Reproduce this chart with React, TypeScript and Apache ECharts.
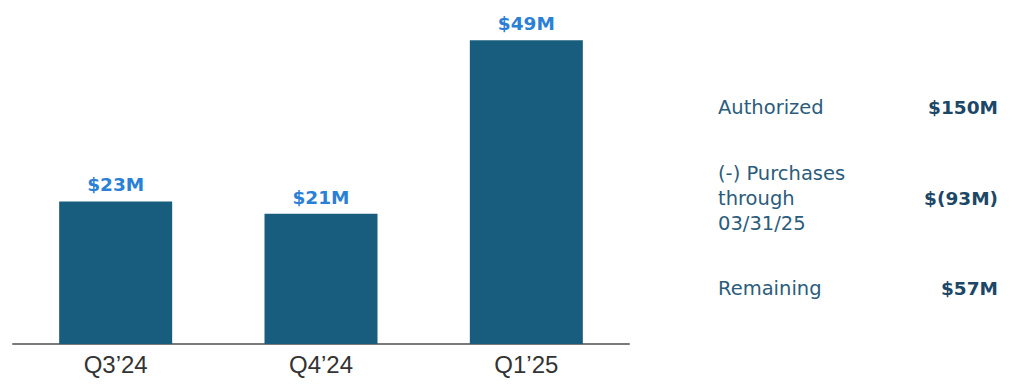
import React, { useEffect, useRef } from "react";
import * as echarts from "echarts";

const categories = ["Q3’24", "Q4’24", "Q1’25"];
const repurchases = [23, 21, 49];
const valueLabels = ["$23M", "$21M", "$49M"];

const tableLabels = [["Authorized"], ["(-) Purchases", "through", "03/31/25"], ["Remaining"]];
const tableValues = ["$150M", "$(93M)", "$57M"];
const tableRowY = [107, 198, 288];

export default function App() {
  const ref = useRef<HTMLDivElement>(null);
  useEffect(() => {
    if (!ref.current) return;
    const chart = echarts.init(ref.current, undefined, { renderer: "svg" });
    const graphics: any[] = [];
    tableLabels.forEach((lines, i) => {
      graphics.push({
        type: "text",
        left: 718,
        top: tableRowY[i] - (lines.length * 25) / 2,
        style: {
          text: lines.join("\n"),
          font: "19.5px 'DejaVu Sans'",
          fill: "#2b5c7c",
          lineHeight: 25,
        },
      });
      graphics.push({
        type: "text",
        right: 1016 - 998,
        top: tableRowY[i] - 11,
        style: {
          text: tableValues[i],
          font: "bold 18.5px 'DejaVu Sans'",
          fill: "#1c4767",
          lineHeight: 22,
          align: "right",
        },
      });
    });
    chart.setOption({
      animation: false,
      grid: { left: 13, right: 1016 - 629, top: 34, bottom: 41 },
      xAxis: {
        type: "category",
        data: categories,
        axisLine: { lineStyle: { color: "#7a7a7a", width: 2 } },
        axisTick: { show: false },
        axisLabel: {
          color: "#333333",
          fontSize: 24,
          fontFamily: "'Liberation Sans', Arial, sans-serif",
          margin: 8,
        },
      },
      yAxis: {
        type: "value",
        min: 0,
        max: 50,
        show: false,
        splitLine: { show: false },
      },
      series: [
        {
          type: "bar",
          data: repurchases,
          barWidth: 113,
          itemStyle: { color: "#195d7e" },
          label: {
            show: true,
            position: "top",
            distance: 7,
            formatter: (p: any) => valueLabels[p.dataIndex],
            color: "#2a80d6",
            fontSize: 18.5,
            fontWeight: "bold",
            fontFamily: "'DejaVu Sans', sans-serif",
          },
        },
      ],
      graphic: graphics,
    });
    return () => chart.dispose();
  }, []);
  return (
    <div
      ref={ref}
      style={{ position: "fixed", left: 0, top: 0, width: 1016, height: 385, background: "#fff" }}
    />
  );
}
